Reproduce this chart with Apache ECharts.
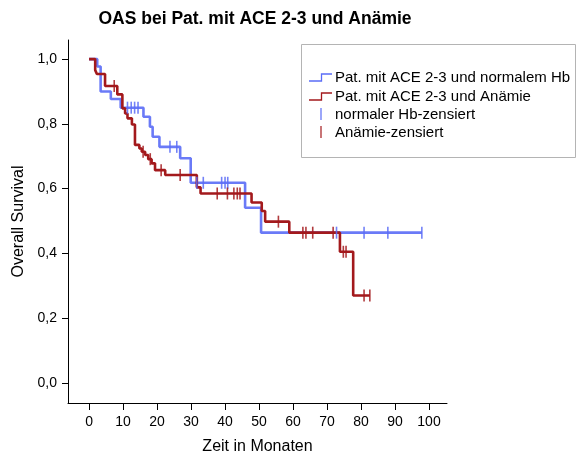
<!DOCTYPE html>
<html>
<head>
<meta charset="utf-8">
<script src="https://cdn.jsdelivr.net/npm/echarts@6/dist/echarts.min.js"></script>
<style>
  html, body { margin: 0; padding: 0; background: #fff; }
  #chart { width: 578px; height: 456px; }
</style>
</head>
<body>
<div id="chart"></div>
<script>
// Kaplan-Meier steps: [month, survival after the event]
const normalHbSteps = [[0, 1], [2.4, 0.977], [3.4, 0.9], [6.4, 0.877], [9.3, 0.85], [16.0, 0.822],
  [17.9, 0.791], [18.7, 0.76], [20.7, 0.729], [26.8, 0.694], [29.9, 0.618], [45.9, 0.541], [50.6, 0.464]];
const normalHbEnd = 97.9;
const normalHbCensored = [11.3, 12.4, 13.4, 14.4, 23.8, 25.8, 31.7, 33.6, 39.0, 40.0, 40.8, 72.8, 80.9, 87.9, 97.9];

const anaemiaSteps = [[0, 1], [1.8, 0.966], [2.3, 0.954], [4.7, 0.917], [8.3, 0.891], [9.8, 0.848],
  [10.6, 0.832], [11.3, 0.817], [12.6, 0.798], [13.5, 0.735], [14.8, 0.724], [15.5, 0.714], [16.5, 0.704],
  [17.4, 0.691], [18.4, 0.678], [19.4, 0.657], [22.4, 0.642], [31.7, 0.604], [32.8, 0.585], [47.8, 0.557],
  [50.8, 0.531], [51.8, 0.498], [58.9, 0.464], [73.8, 0.405], [77.7, 0.27]];
const anaemiaEnd = 82.6;
const anaemiaCensored = [7.4, 15.9, 18.0, 21.2, 26.8, 37.7, 40.7, 42.6, 43.6, 44.4, 55.7, 62.9, 63.8, 65.8,
  71.8, 74.8, 75.6, 80.9, 82.6];

const xTicks = [0, 10, 20, 30, 40, 50, 60, 70, 80, 90, 100];
const yTicks = [0, 0.2, 0.4, 0.6, 0.8, 1.0];

const seriesNames = ['Pat. mit ACE 2-3 und normalem Hb', 'Pat. mit ACE 2-3 und Anämie',
  'normaler Hb-zensiert', 'Anämie-zensiert'];

const BLUE = '#5a6cf6';
const RED = '#a3191c';
const FONT = '"Liberation Sans", Arial, sans-serif';

// survival value in effect at time t
function survivalAt(steps, t) {
  let v = steps[0][1];
  for (const [s, val] of steps) { if (s <= t) v = val; }
  return v;
}
function curve(steps, end) {
  return steps.concat([[end, steps[steps.length - 1][1]]]);
}
function ticks(steps, times) {
  return times.map(t => [t, survivalAt(steps, t)]);
}

const chart = echarts.init(document.getElementById('chart'), null, { renderer: 'canvas' });

const legendX = 301, legendY = 44;
const rowY = [78, 97, 115, 133];

chart.setOption({
  animation: false,
  backgroundColor: '#fff',
  title: {
    text: 'OAS bei Pat. mit ACE 2-3 und Anämie',
    left: 250, top: 5, textAlign: 'center',
    textStyle: { fontFamily: FONT, fontSize: 17.5, fontWeight: 'bold', color: '#000' }
  },
  grid: { left: 68, right: 131, top: 40, bottom: 53, containLabel: false, outerBoundsMode: 'none' },
  xAxis: {
    type: 'value', min: -6.2, max: 105.3,
    name: 'Zeit in Monaten', nameLocation: 'middle', nameGap: 36,
    nameTextStyle: { fontFamily: FONT, fontSize: 16, color: '#000' },
    axisLine: { onZero: false, lineStyle: { color: '#000', width: 1 } },
    axisTick: { customValues: xTicks, length: 7, lineStyle: { color: '#000' } },
    axisLabel: { customValues: xTicks, fontFamily: FONT, fontSize: 14, color: '#000', margin: 12 },
    splitLine: { show: false }
  },
  yAxis: {
    type: 'value', min: -0.062, max: 1.059,
    name: 'Overall Survival', nameLocation: 'middle', nameGap: 41, nameRotate: 90,
    nameTextStyle: { fontFamily: FONT, fontSize: 16, color: '#000' },
    axisLine: { show: true, onZero: false, lineStyle: { color: '#000', width: 1 } },
    axisTick: { show: true, customValues: yTicks, length: 6, lineStyle: { color: '#000' } },
    axisLabel: {
      customValues: yTicks, fontFamily: FONT, fontSize: 14, color: '#000', margin: 11,
      formatter: v => v.toFixed(1).replace('.', ',')
    },
    splitLine: { show: false }
  },
  series: [
    {
      name: seriesNames[0], type: 'line', step: 'end', showSymbol: false, z: 2,
      data: curve(normalHbSteps, normalHbEnd),
      lineStyle: { color: BLUE, width: 2.6, opacity: 0.9 }
    },
    {
      name: seriesNames[1], type: 'line', step: 'end', showSymbol: false, z: 3,
      data: curve(anaemiaSteps, anaemiaEnd),
      lineStyle: { color: RED, width: 2.6 }
    },
    {
      name: seriesNames[2], type: 'scatter', symbol: 'rect', symbolSize: [1.6, 12], z: 4,
      data: ticks(normalHbSteps, normalHbCensored),
      itemStyle: { color: BLUE, opacity: 0.85 }
    },
    {
      name: seriesNames[3], type: 'scatter', symbol: 'rect', symbolSize: [1.6, 12], z: 5,
      data: ticks(anaemiaSteps, anaemiaCensored),
      itemStyle: { color: RED, opacity: 0.85 }
    }
  ],
  graphic: [
    {
      type: 'rect', shape: { x: legendX + 0.5, y: legendY + 0.5, width: 274, height: 113 },
      style: { fill: '#fff', stroke: '#b4b4b4', lineWidth: 1 }, z: 10
    },
    {
      type: 'polyline', shape: { points: [[309, rowY[0] + 3], [321.5, rowY[0] + 3], [321.5, rowY[0] - 4], [332, rowY[0] - 4]] },
      style: { stroke: BLUE, lineWidth: 1.3, fill: null }, z: 11
    },
    {
      type: 'polyline', shape: { points: [[309, rowY[1] + 3], [321.5, rowY[1] + 3], [321.5, rowY[1] - 4], [332, rowY[1] - 4]] },
      style: { stroke: RED, lineWidth: 1.3, fill: null }, z: 11
    },
    {
      type: 'line', shape: { x1: 321, y1: rowY[2] - 7, x2: 321, y2: rowY[2] + 5 },
      style: { stroke: BLUE, lineWidth: 1.2 }, z: 11
    },
    {
      type: 'line', shape: { x1: 321, y1: rowY[3] - 7, x2: 321, y2: rowY[3] + 5 },
      style: { stroke: RED, lineWidth: 1.2 }, z: 11
    }
  ].concat(seriesNames.map((n, i) => ({
    type: 'text', x: 335, y: rowY[i], z: 11,
    style: { text: n, fontFamily: FONT, fontSize: 15, fill: '#000', textVerticalAlign: 'middle' }
  })))
});
</script>
</body>
</html>
